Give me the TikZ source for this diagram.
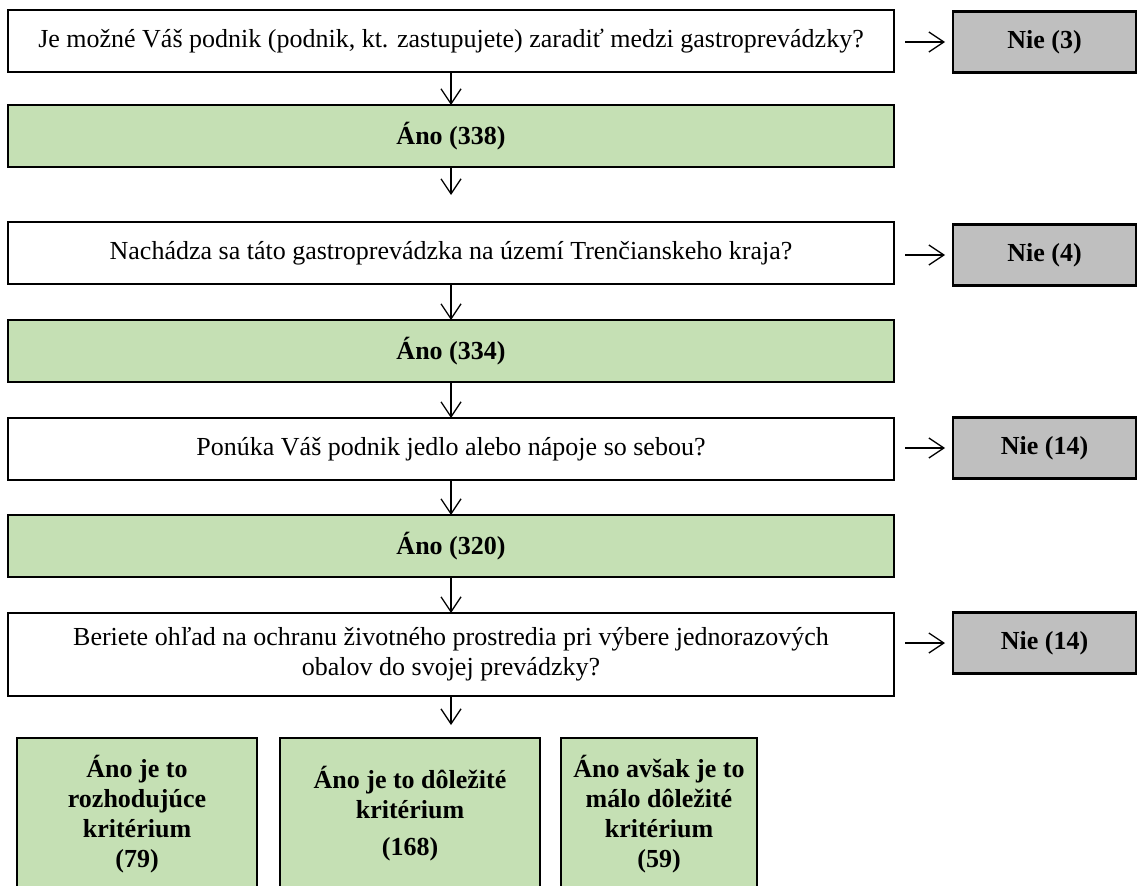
\documentclass[tikz,border=0pt]{standalone}
\usepackage{fontspec}
\setmainfont{Liberation Serif}
\usetikzlibrary{arrows.meta}
\definecolor{boxgreen}{HTML}{C5E0B4}
\definecolor{boxgray}{HTML}{BFBFBF}
\tikzset{
  base/.style={draw=black, line width=2.4pt, inner sep=0pt, outer sep=0pt, font=\fontsize{26}{30}\selectfont, align=center},
  qbox/.style={base, fill=white, minimum width=886pt, minimum height=62pt},
  abox/.style={base, fill=boxgreen, minimum width=886pt, minimum height=62pt, font=\fontsize{26}{30}\selectfont\bfseries},
  nbox/.style={base, fill=boxgray, minimum width=183pt, minimum height=61pt, font=\fontsize{26}{30}\selectfont\bfseries},
  fbox/.style={base, fill=boxgreen, minimum height=152pt, font=\fontsize{26}{30}\selectfont\bfseries},
  arr/.style={draw=black, line width=1.3pt, -{Straight Barb[length=15pt, width=20pt, line width=1.3pt]}}
}
\begin{document}
\begin{tikzpicture}[x=1pt, y=-1pt]
\clip (0,0) rectangle (1138,886);
\fill[white] (0,0) rectangle (1138,886);

\node[qbox] (q1) at (451,41) {Je možné Váš podnik (podnik, kt. zastupujete) zaradiť medzi gastroprevádzky?};
\node[nbox] (n1) at (1044.5,42) {Nie (3)};
\node[abox] (a1) at (451,136) {Áno (338)};

\node[qbox] (q2) at (451,253) {Nachádza sa táto gastroprevádzka na území Trenčianskeho kraja?};
\node[nbox] (n2) at (1044.5,255) {Nie (4)};
\node[abox] (a2) at (451,351) {Áno (334)};

\node[qbox] (q3) at (451,449) {Ponúka Váš podnik jedlo alebo nápoje so sebou?};
\node[nbox] (n3) at (1044.5,448) {Nie (14)};
\node[abox] (a3) at (451,546) {Áno (320)};

\node[qbox, minimum height=83pt] (q4) at (451,654.5) {Beriete ohľad na ochranu životného prostredia pri výbere jednorazových\\obalov do svojej prevádzky?};
\node[nbox] (n4) at (1044.5,643) {Nie (14)};

\node[fbox, minimum width=240pt] (b1) at (137,814) {Áno je to\\rozhodujúce\\kritérium\\(79)};
\node[fbox, minimum width=260pt] (b2) at (410,814) {Áno je to dôležité\\kritérium\\[7pt](168)};
\node[fbox, minimum width=196pt] (b3) at (659,814) {Áno avšak je to\\málo dôležité\\kritérium\\(59)};

\coordinate (c1) at (451,195);
\coordinate (c4) at (451,725);

% right arrows
\draw[arr, shorten <=11pt, shorten >=8pt] (q1.east |- n1) -- (n1.west);
\draw[arr, shorten <=11pt, shorten >=8pt] (q2.east |- n2) -- (n2.west);
\draw[arr, shorten <=11pt, shorten >=8pt] (q3.east |- n3) -- (n3.west);
\draw[arr, shorten <=11pt, shorten >=8pt] (q4.east |- n4) -- (n4.west);

% down arrows
\draw[arr] (q1.south) -- (a1.north);
\draw[arr] (a1.south) -- (c1);
\draw[arr] (q2.south) -- (a2.north);
\draw[arr] (a2.south) -- (q3.north);
\draw[arr] (q3.south) -- (a3.north);
\draw[arr] (a3.south) -- (q4.north);
\draw[arr] (q4.south) -- (c4);
\end{tikzpicture}
\end{document}
